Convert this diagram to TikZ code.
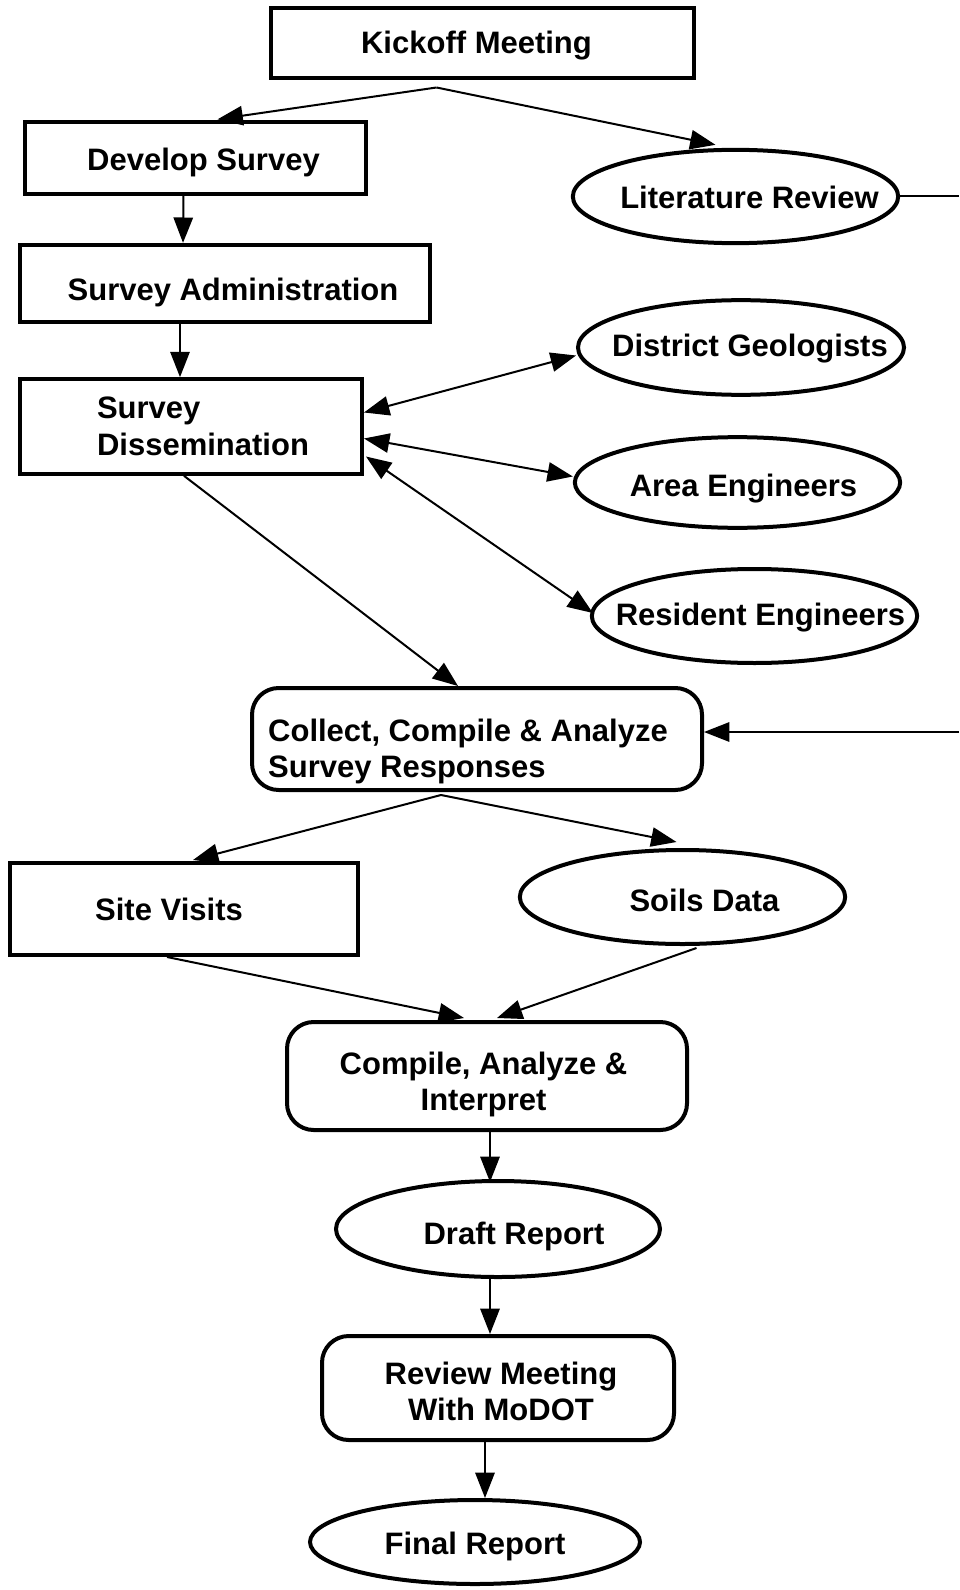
\documentclass[tikz,border=0pt]{standalone}
\usepackage{fontspec}
\setmainfont{Liberation Sans}
\usetikzlibrary{shapes.geometric,arrows.meta,calc}

\begin{document}
\begin{tikzpicture}[x=0.75pt,y=0.75pt,yscale=-1,xscale=1,
  box/.style={draw,line width=3pt,rectangle,inner sep=0pt},
  rbox/.style={box,rounded corners=20pt},
  oval/.style={draw,line width=3pt,ellipse,inner sep=0pt},
  txt/.style={font=\bfseries\fontsize{23.25}{27.4}\selectfont,inner sep=0pt},
  link/.style={line width=1.5pt,-{Triangle[length=19pt,width=14.5pt]}},
  both/.style={line width=1.5pt,{Triangle[length=19pt,width=14.5pt]}-{Triangle[length=19pt,width=14.5pt]}}]
\useasboundingbox (0,0) rectangle (959,1590);
%Shape: upper part
\node[box,minimum width=317pt,minimum height=52.5pt,label={[txt,xshift=-4.5pt,yshift=-1.5pt]center:Kickoff Meeting}] (kick) at (482.5,43.5) {};
\node[box,minimum width=256pt,minimum height=53.5pt,label={[txt,xshift=6pt,yshift=-3pt]center:Develop Survey}] (dev) at (195.5,158) {};
\node[oval,minimum width=244pt,minimum height=70pt,label={[txt,xshift=10.5pt,yshift=-0.75pt]center:Literature Review}] (lit) at (735.5,196.5) {};
\node[box,minimum width=307.5pt,minimum height=58pt,label={[txt,xshift=6pt,yshift=-7pt]center:Survey Administration}] (adm) at (225,283.5) {};
\node[box,minimum width=256.5pt,minimum height=71pt,label={[txt,align=left,xshift=9pt]center:{Survey\\Dissemination}}] (diss) at (191,426.5) {};
\node[oval,minimum width=244.5pt,minimum height=71pt,label={[txt,xshift=6.75pt,yshift=-0.75pt]center:District Geologists}] (dg) at (741,347.5) {};
\node[oval,minimum width=244pt,minimum height=68pt,label={[txt,xshift=4.5pt,yshift=-4.5pt]center:Area Engineers}] (ae) at (737.5,482.5) {};
\node[oval,minimum width=244pt,minimum height=70.5pt,label={[txt,xshift=4.5pt,yshift=-1.5pt]center:Resident Engineers}] (re) at (754.5,616) {};
%Shape: middle part
\node[rbox,minimum width=337.5pt,minimum height=76.5pt,label={[txt,align=left,xshift=-6.75pt,yshift=-9.5pt]center:{Collect, Compile \& Analyze\\Survey Responses}}] (coll) at (477,739) {};
\node[box,minimum width=261pt,minimum height=69pt,label={[txt,xshift=-11.25pt]center:Site Visits}] (site) at (184,909) {};
\node[oval,minimum width=244pt,minimum height=70.5pt,label={[txt,xshift=16.5pt,yshift=-2.25pt]center:Soils Data}] (soil) at (682.5,897) {};
\node[rbox,minimum width=300pt,minimum height=81pt,label={[txt,align=center,xshift=-2.6pt,yshift=-6.5pt]center:{Compile, Analyze \&\\Interpret}}] (comp) at (487,1076) {};
%Shape: lower part
\node[oval,minimum width=243pt,minimum height=72pt,label={[txt,xshift=12pt,yshift=-5.6pt]center:Draft Report}] (draft) at (498,1229) {};
\node[rbox,minimum width=264pt,minimum height=78pt,label={[txt,align=center,xshift=2.25pt,yshift=-2.65pt]center:{Review Meeting\\With MoDOT}}] (rev) at (498,1388) {};
\node[oval,minimum width=247.5pt,minimum height=63pt,label={[txt,yshift=-3pt]center:Final Report}] (fin) at (475,1542) {};
%free ends
\coordinate (kickfoot) at ($(kick.south)+(-46,7)$);
\coordinate (collfoot) at ($(coll.south)+(-36,3)$);
\coordinate (litout) at (959,196.5);
\coordinate (collin) at (959,732);
%connectors
\draw[link] (kickfoot) -- ($(dev.north)+(22,-1)$);
\draw[link] (kickfoot) -- ($(lit.north)+(-20,-3)$);
\draw[link] ($(dev.south)+(-12,0)$) -- ($(adm.north)+(-42,0)$);
\draw[link] ($(adm.south)+(-45,0)$) -- ($(diss.north)+(-11,0)$);
\draw[both] ($(diss.east)+(0,-14)$) -- ($(dg.west)+(0,8)$);
\draw[both] ($(diss.east)+(0,12)$) -- ($(ae.west)+(0,-6)$);
\draw[both] ($(diss.east)+(2,30)$) -- ($(re.west)+(3,-3)$);
\draw[link] ($(diss.south)+(-7,0)$) -- ($(coll.north)+(-19,0)$);
\draw[line width=1.5pt] (lit.east) -- (litout);
\draw[link] (collin) -- ($(coll.east)+(0,-7)$);
\draw[link] (collfoot) -- ($(site.north)+(9,-1)$);
\draw[link] (collfoot) -- ($(soil.north)+(-6,-6)$);
\draw[link] ($(site.south)+(-17,0)$) -- ($(comp.north)+(-23,-2)$);
\draw[link] ($(soil.south)+(14,2)$) -- ($(comp.north)+(10,-2)$);
\draw[link] ($(comp.south)+(3,0)$) -- ($(draft.north)+(-8,3)$);
\draw[link] ($(draft.south)+(-8,0)$) -- ($(rev.north)+(-8,0)$);
\draw[link] ($(rev.south)+(-13,0)$) -- ($(fin.north)+(10,0)$);
\end{tikzpicture}
\end{document}
